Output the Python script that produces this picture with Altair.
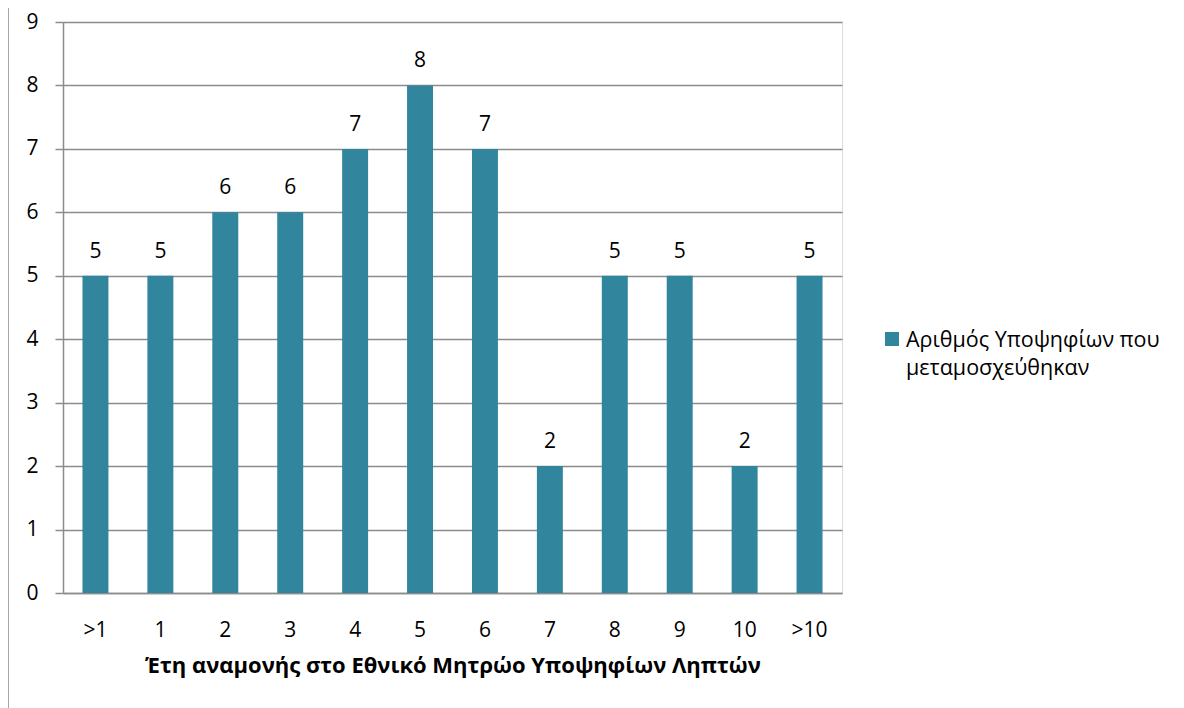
import altair as alt
import pandas as pd

categories = [">1", "1", "2", "3", "4", "5", "6", "7", "8", "9", "10", ">10"]
values = [5, 5, 6, 6, 7, 8, 7, 2, 5, 5, 2, 5]
series_name = "Αριθμός Υποψηφίων που μεταμοσχεύθηκαν"
legend_lines = ["Αριθμός Υποψηφίων που", "μεταμοσχεύθηκαν"]

df = pd.DataFrame({"cat": categories, "val": values, "series": series_name})
legend_df = pd.DataFrame({"series": [series_name]})

FONT = "Open Sans"
GRID = "#8c8c8c"
BAR = "#31859C"
FS = 21

x = alt.X("cat:N", sort=categories,
          scale=alt.Scale(paddingInner=0.6, paddingOuter=0.3),
          axis=alt.Axis(title="Έτη αναμονής στο Εθνικό Μητρώο Υποψηφίων Ληπτών",
                        labelAngle=0, ticks=False, labelPadding=26,
                        labelFontSize=FS, labelFont=FONT, labelColor="#000",
                        titleFont=FONT, titleFontSize=22, titleFontWeight="bold",
                        titleColor="#000", titlePadding=15,
                        domainColor=GRID, domainWidth=1.5))

y = alt.Y("val:Q", scale=alt.Scale(domain=[0, 9]),
          axis=alt.Axis(title=None, values=list(range(10)), tickCount=10,
                        grid=True, gridColor=GRID, gridWidth=1.5,
                        tickSize=8, tickColor=GRID, tickWidth=1.5,
                        domainColor=GRID, domainWidth=1.5,
                        labelPadding=17, labelFontSize=FS, labelFont=FONT,
                        labelColor="#000"))

bars = alt.Chart(df).mark_bar(color=BAR).encode(x=x, y=y)

labels = alt.Chart(df).mark_text(dy=-18, baseline="alphabetic", font=FONT,
                                 fontSize=FS, color="#000").encode(
    x=alt.X("cat:N", sort=categories), y="val:Q", text="val:Q")

border = alt.Chart(legend_df).mark_rule(color="#888888", strokeWidth=1.5, clip=False).encode(
    x=alt.value(-55), y=alt.value(-22), y2=alt.value(700))

leg_sym = alt.Chart(legend_df).mark_square(size=196, color=BAR, opacity=1, clip=False).encode(
    x=alt.value(829), y=alt.value(317))

leg_txt = alt.Chart(legend_df).mark_text(align="left", baseline="alphabetic", font=FONT,
                                         fontSize=21.5, color="#000", lineHeight=28,
                                         clip=False).encode(
    x=alt.value(843), y=alt.value(325), text=alt.value(legend_lines))

chart = alt.layer(bars, labels, border, leg_sym, leg_txt).properties(
    width=779, height=571,
    autosize=alt.AutoSizeParams(type="none"),
    padding={"left": 55, "top": 14, "right": 330, "bottom": 130},
).configure_view(stroke=None).configure(font=FONT)

chart.save("out.html", embed_options={"renderer": "svg", "actions": False})
